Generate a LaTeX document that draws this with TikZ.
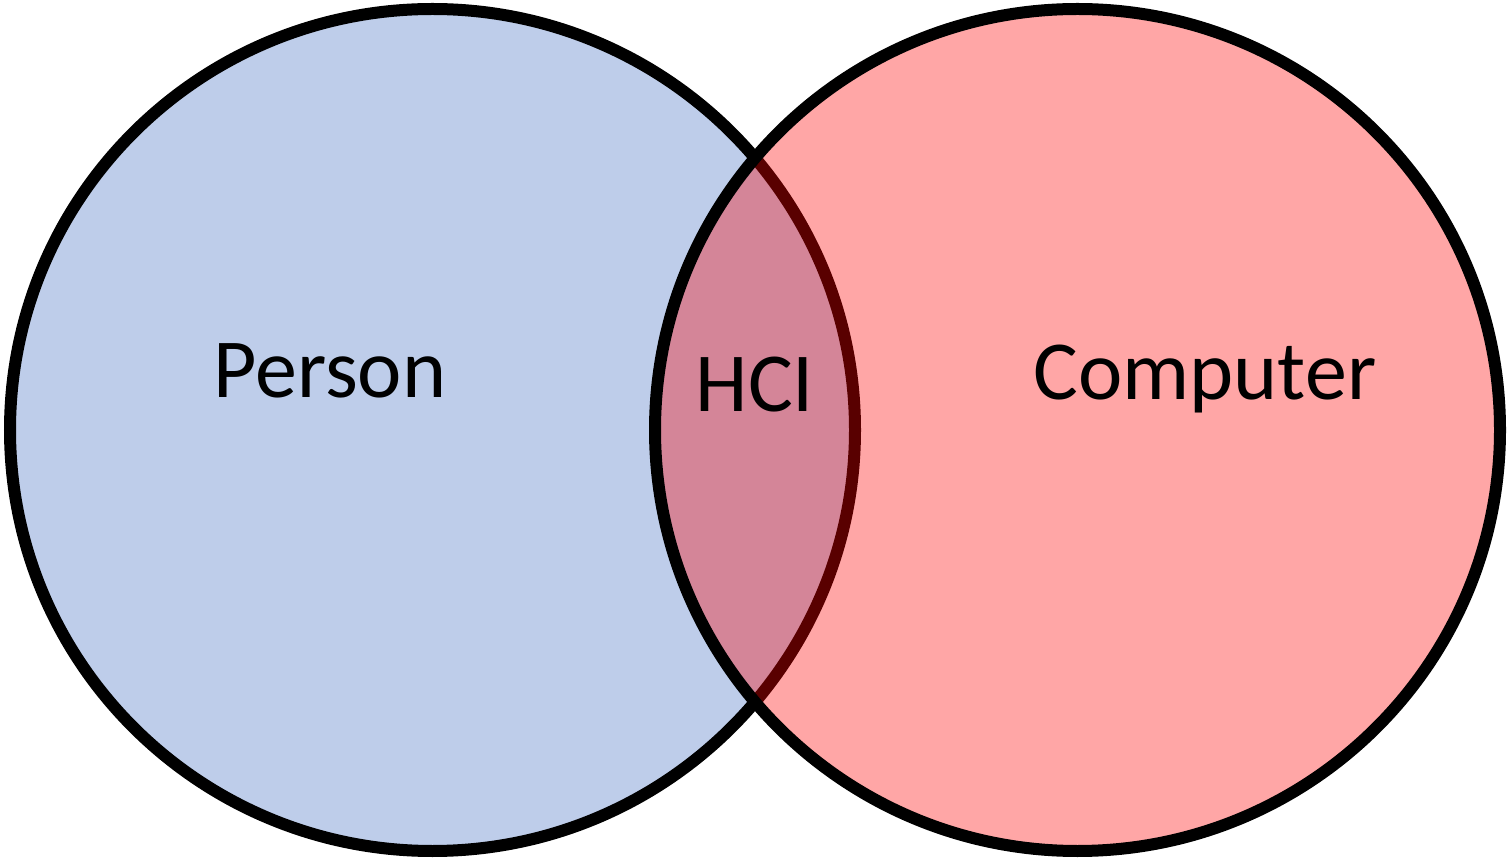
\documentclass[tikz,border=0pt]{standalone}
\usepackage{fontspec}
\setmainfont{Carlito}
\definecolor{personblue}{RGB}{190,205,234}
\tikzset{
  setring/.style={line width=12pt, draw=black},
  lbl/.style={inner sep=0pt, anchor=base, font=\fontsize{84}{100}\selectfont, text=black}
}
\begin{document}
\begin{tikzpicture}[x=1pt,y=1pt]
\useasboundingbox (0,0) rectangle (1512,860);
% left ellipse (Person)
\path[setring, fill=personblue] (432.5,430) ellipse [x radius=422.5, y radius=421];
% right ellipse (Computer), translucent red fill
\path[setring, fill=red, fill opacity=0.35] (1077.5,430) ellipse [x radius=422.5, y radius=421];
\node[lbl] (person) at (330,462) {Person};
\node[lbl] (hci) at (755,448) {HCI};
\node[lbl] (computer) at (1205,460) {Computer};
\end{tikzpicture}
\end{document}
